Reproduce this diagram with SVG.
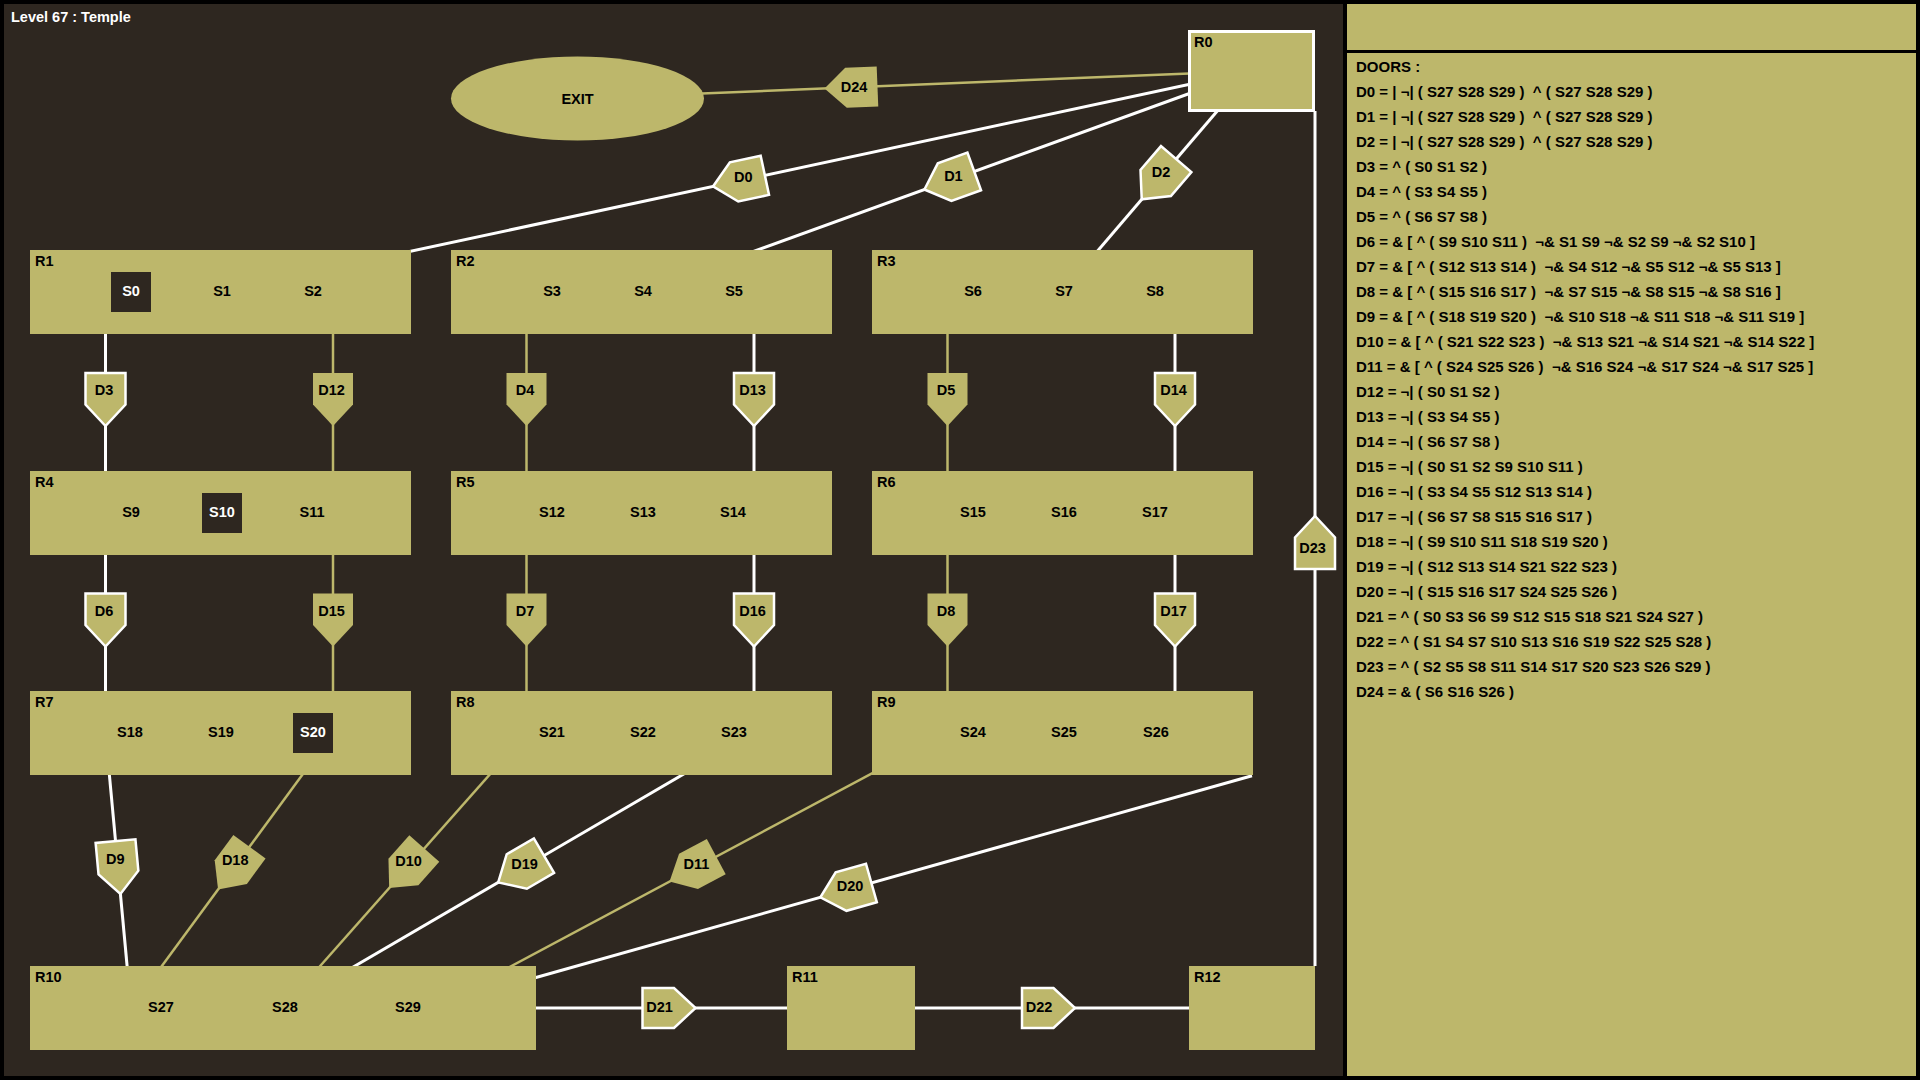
<svg xmlns="http://www.w3.org/2000/svg" xmlns:xlink="http://www.w3.org/1999/xlink" width="1920" height="1080" viewBox="0 0 1920 1080">
<style>
.room{fill:#bdb76b}
.t{font-family:"Liberation Sans",Arial,sans-serif;font-weight:bold;font-size:14.5px;fill:#000}
.m{text-anchor:middle}
.w{fill:#fff}
.box{fill:#2e2720}
.lo{stroke:#fff;stroke-width:3;fill:none}
.lc{stroke:#bdb76b;stroke-width:2.5;fill:none}
.dopen{fill:#bdb76b;stroke:#fff;stroke-width:2.5;stroke-linejoin:miter}
.dclosed{fill:#bdb76b;stroke:none}
.p{font-family:"Liberation Sans",Arial,sans-serif;font-weight:bold;font-size:15px;fill:#000;white-space:pre}
</style>
<defs>
<polygon id="door" points="-29.5,-20 2,-20 23.5,0 2,20 -29.5,20"/>
</defs>
<rect x="0" y="0" width="1920" height="1080" fill="#000"/>
<rect x="4" y="4" width="1339" height="1072" fill="#2e2720"/>
<rect x="1347" y="4" width="569" height="46" class="room"/>
<rect x="1347" y="53" width="569" height="1023" class="room"/>
<text x="11" y="22" class="t w" style="font-size:14.5px">Level 67 : Temple</text>

<g id="connectors">
<path class="lc" d="M577.5,98.5 L1251.5,71"/>
<path class="lo" d="M1251.5,71 L220.5,292"/>
<path class="lo" d="M1251.5,71 L641.5,292"/>
<path class="lo" d="M1251.5,71 L1062.5,292"/>
<path class="lo" d="M105.5,292 V513"/>
<path class="lc" d="M333,292 V513"/>
<path class="lc" d="M526.5,292 V513"/>
<path class="lo" d="M754,292 V513"/>
<path class="lc" d="M947.5,292 V513"/>
<path class="lo" d="M1175,292 V513"/>
<path class="lo" d="M105.5,513 V733"/>
<path class="lc" d="M333,513 V733"/>
<path class="lc" d="M526.5,513 V733"/>
<path class="lo" d="M754,513 V733"/>
<path class="lc" d="M947.5,513 V733"/>
<path class="lo" d="M1175,513 V733"/>
<path class="lo" d="M105.5,733 L131,1008"/>
<path class="lc" d="M333,733 L131,1008"/>
<path class="lc" d="M526.5,733 L283,1008"/>
<path class="lo" d="M754,733 L283,1008"/>
<path class="lc" d="M947.5,733 L433,1008"/>
<path class="lo" d="M528,979.7 L1252,775.7"/>
<path class="lo" d="M283,1008 H851"/>
<path class="lo" d="M851,1008 H1251.5"/>
<path class="lo" d="M1315,111 V966"/>
</g>

<g id="EXIT"><ellipse cx="577.5" cy="98.5" rx="126.5" ry="42" class="room"/><text x="577.5" y="103.5" class="t m">EXIT</text></g>

<g id="R0"><rect x="1189.5" y="31.5" width="124" height="79" fill="#bdb76b" stroke="#fff" stroke-width="3"/><text x="1194" y="46.5" class="t">R0</text></g>

<g id="R1"><rect x="30" y="250" width="381" height="84" class="room"/><text x="35" y="266" class="t">R1</text>
<rect x="111" y="272" width="40" height="40" class="box"/><text x="131" y="296" class="t m w">S0</text><text x="222" y="296" class="t m">S1</text><text x="313" y="296" class="t m">S2</text></g>
<g id="R2"><rect x="451" y="250" width="381" height="84" class="room"/><text x="456" y="266" class="t">R2</text>
<text x="552" y="296" class="t m">S3</text><text x="643" y="296" class="t m">S4</text><text x="734" y="296" class="t m">S5</text></g>
<g id="R3"><rect x="872" y="250" width="381" height="84" class="room"/><text x="877" y="266" class="t">R3</text>
<text x="973" y="296" class="t m">S6</text><text x="1064" y="296" class="t m">S7</text><text x="1155" y="296" class="t m">S8</text></g>

<g id="R4"><rect x="30" y="471" width="381" height="84" class="room"/><text x="35" y="487" class="t">R4</text>
<text x="131" y="517" class="t m">S9</text><rect x="202" y="493" width="40" height="40" class="box"/><text x="222" y="517" class="t m w">S10</text><text x="312" y="517" class="t m">S11</text></g>
<g id="R5"><rect x="451" y="471" width="381" height="84" class="room"/><text x="456" y="487" class="t">R5</text>
<text x="552" y="517" class="t m">S12</text><text x="643" y="517" class="t m">S13</text><text x="733" y="517" class="t m">S14</text></g>
<g id="R6"><rect x="872" y="471" width="381" height="84" class="room"/><text x="877" y="487" class="t">R6</text>
<text x="973" y="517" class="t m">S15</text><text x="1064" y="517" class="t m">S16</text><text x="1155" y="517" class="t m">S17</text></g>

<g id="R7"><rect x="30" y="691" width="381" height="84" class="room"/><text x="35" y="707" class="t">R7</text>
<text x="130" y="737" class="t m">S18</text><text x="221" y="737" class="t m">S19</text><rect x="293" y="713" width="40" height="40" class="box"/><text x="313" y="737" class="t m w">S20</text></g>
<g id="R8"><rect x="451" y="691" width="381" height="84" class="room"/><text x="456" y="707" class="t">R8</text>
<text x="552" y="737" class="t m">S21</text><text x="643" y="737" class="t m">S22</text><text x="734" y="737" class="t m">S23</text></g>
<g id="R9"><rect x="872" y="691" width="381" height="84" class="room"/><text x="877" y="707" class="t">R9</text>
<text x="973" y="737" class="t m">S24</text><text x="1064" y="737" class="t m">S25</text><text x="1156" y="737" class="t m">S26</text></g>

<g id="R10"><rect x="30" y="966" width="506" height="84" class="room"/><text x="35" y="982" class="t">R10</text>
<text x="161" y="1012" class="t m">S27</text><text x="285" y="1012" class="t m">S28</text><text x="408" y="1012" class="t m">S29</text></g>
<g id="R11"><rect x="787" y="966" width="128" height="84" class="room"/><text x="792" y="982" class="t">R11</text></g>
<g id="R12"><rect x="1189" y="966" width="126" height="84" class="room"/><text x="1194" y="982" class="t">R12</text></g>

<g id="D0"><use xlink:href="#door" class="dopen" transform="translate(736,181.5) rotate(167.9)"/><text x="743.3" y="182.4" class="t m">D0</text></g>
<g id="D1"><use xlink:href="#door" class="dopen" transform="translate(946.5,181.5) rotate(160.08)"/><text x="953.4" y="181.1" class="t m">D1</text></g>
<g id="D2"><use xlink:href="#door" class="dopen" transform="translate(1157,181.5) rotate(130.54)"/><text x="1161" y="176.9" class="t m">D2</text></g>
<g id="D3"><use xlink:href="#door" class="dopen" transform="translate(105.5,402.5) rotate(90)"/><text x="104" y="395" class="t m">D3</text></g>
<g id="D12"><use xlink:href="#door" class="dclosed" transform="translate(333,402.5) rotate(90)"/><text x="331.5" y="395" class="t m">D12</text></g>
<g id="D4"><use xlink:href="#door" class="dclosed" transform="translate(526.5,402.5) rotate(90)"/><text x="525" y="395" class="t m">D4</text></g>
<g id="D13"><use xlink:href="#door" class="dopen" transform="translate(754,402.5) rotate(90)"/><text x="752.5" y="395" class="t m">D13</text></g>
<g id="D5"><use xlink:href="#door" class="dclosed" transform="translate(947.5,402.5) rotate(90)"/><text x="946" y="395" class="t m">D5</text></g>
<g id="D14"><use xlink:href="#door" class="dopen" transform="translate(1175,402.5) rotate(90)"/><text x="1173.5" y="395" class="t m">D14</text></g>
<g id="D6"><use xlink:href="#door" class="dopen" transform="translate(105.5,623) rotate(90)"/><text x="104" y="615.5" class="t m">D6</text></g>
<g id="D15"><use xlink:href="#door" class="dclosed" transform="translate(333,623) rotate(90)"/><text x="331.5" y="615.5" class="t m">D15</text></g>
<g id="D7"><use xlink:href="#door" class="dclosed" transform="translate(526.5,623) rotate(90)"/><text x="525" y="615.5" class="t m">D7</text></g>
<g id="D16"><use xlink:href="#door" class="dopen" transform="translate(754,623) rotate(90)"/><text x="752.5" y="615.5" class="t m">D16</text></g>
<g id="D8"><use xlink:href="#door" class="dclosed" transform="translate(947.5,623) rotate(90)"/><text x="946" y="615.5" class="t m">D8</text></g>
<g id="D17"><use xlink:href="#door" class="dopen" transform="translate(1175,623) rotate(90)"/><text x="1173.5" y="615.5" class="t m">D17</text></g>
<g id="D9"><use xlink:href="#door" class="dopen" transform="translate(118.25,870.5) rotate(84.7)"/><text x="115.3" y="863.5" class="t m">D9</text></g>
<g id="D18"><use xlink:href="#door" class="dclosed" transform="translate(232,870.5) rotate(126.3)"/><text x="235.2" y="865.4" class="t m">D18</text></g>
<g id="D10"><use xlink:href="#door" class="dclosed" transform="translate(404.75,870.5) rotate(131.52)"/><text x="408.6" y="866" class="t m">D10</text></g>
<g id="D19"><use xlink:href="#door" class="dopen" transform="translate(518.5,870.5) rotate(149.72)"/><text x="524.5" y="868.5" class="t m">D19</text></g>
<g id="D11"><use xlink:href="#door" class="dclosed" transform="translate(690.25,870.5) rotate(151.87)"/><text x="696.4" y="868.8" class="t m">D11</text></g>
<g id="D20"><use xlink:href="#door" class="dopen" transform="translate(843,891) rotate(164.27)"/><text x="850" y="891.3" class="t m">D20</text></g>
<g id="D21"><use xlink:href="#door" class="dopen" transform="translate(672,1008) rotate(0)"/><text x="659.5" y="1011.5" class="t m">D21</text></g>
<g id="D22"><use xlink:href="#door" class="dopen" transform="translate(1051.5,1008) rotate(0)"/><text x="1039" y="1011.5" class="t m">D22</text></g>
<g id="D23"><use xlink:href="#door" class="dopen" transform="translate(1315,539.5) rotate(-90)"/><text x="1312.5" y="553" class="t m">D23</text></g>
<g id="D24"><use xlink:href="#door" class="dclosed" transform="translate(848,87.6) rotate(177.7)"/><text x="854" y="91.5" class="t m">D24</text></g>

<g id="doors-list">
<text x="1356" y="72" class="p">DOORS :</text>
<text x="1356" y="97" class="p">D0 = | ¬| ( S27 S28 S29 )  ^ ( S27 S28 S29 )</text>
<text x="1356" y="122" class="p">D1 = | ¬| ( S27 S28 S29 )  ^ ( S27 S28 S29 )</text>
<text x="1356" y="147" class="p">D2 = | ¬| ( S27 S28 S29 )  ^ ( S27 S28 S29 )</text>
<text x="1356" y="172" class="p">D3 = ^ ( S0 S1 S2 )</text>
<text x="1356" y="197" class="p">D4 = ^ ( S3 S4 S5 )</text>
<text x="1356" y="222" class="p">D5 = ^ ( S6 S7 S8 )</text>
<text x="1356" y="247" class="p">D6 = &amp; [ ^ ( S9 S10 S11 )  ¬&amp; S1 S9 ¬&amp; S2 S9 ¬&amp; S2 S10 ]</text>
<text x="1356" y="272" class="p">D7 = &amp; [ ^ ( S12 S13 S14 )  ¬&amp; S4 S12 ¬&amp; S5 S12 ¬&amp; S5 S13 ]</text>
<text x="1356" y="297" class="p">D8 = &amp; [ ^ ( S15 S16 S17 )  ¬&amp; S7 S15 ¬&amp; S8 S15 ¬&amp; S8 S16 ]</text>
<text x="1356" y="322" class="p">D9 = &amp; [ ^ ( S18 S19 S20 )  ¬&amp; S10 S18 ¬&amp; S11 S18 ¬&amp; S11 S19 ]</text>
<text x="1356" y="347" class="p">D10 = &amp; [ ^ ( S21 S22 S23 )  ¬&amp; S13 S21 ¬&amp; S14 S21 ¬&amp; S14 S22 ]</text>
<text x="1356" y="372" class="p">D11 = &amp; [ ^ ( S24 S25 S26 )  ¬&amp; S16 S24 ¬&amp; S17 S24 ¬&amp; S17 S25 ]</text>
<text x="1356" y="397" class="p">D12 = ¬| ( S0 S1 S2 )</text>
<text x="1356" y="422" class="p">D13 = ¬| ( S3 S4 S5 )</text>
<text x="1356" y="447" class="p">D14 = ¬| ( S6 S7 S8 )</text>
<text x="1356" y="472" class="p">D15 = ¬| ( S0 S1 S2 S9 S10 S11 )</text>
<text x="1356" y="497" class="p">D16 = ¬| ( S3 S4 S5 S12 S13 S14 )</text>
<text x="1356" y="522" class="p">D17 = ¬| ( S6 S7 S8 S15 S16 S17 )</text>
<text x="1356" y="547" class="p">D18 = ¬| ( S9 S10 S11 S18 S19 S20 )</text>
<text x="1356" y="572" class="p">D19 = ¬| ( S12 S13 S14 S21 S22 S23 )</text>
<text x="1356" y="597" class="p">D20 = ¬| ( S15 S16 S17 S24 S25 S26 )</text>
<text x="1356" y="622" class="p">D21 = ^ ( S0 S3 S6 S9 S12 S15 S18 S21 S24 S27 )</text>
<text x="1356" y="647" class="p">D22 = ^ ( S1 S4 S7 S10 S13 S16 S19 S22 S25 S28 )</text>
<text x="1356" y="672" class="p">D23 = ^ ( S2 S5 S8 S11 S14 S17 S20 S23 S26 S29 )</text>
<text x="1356" y="697" class="p">D24 = &amp; ( S6 S16 S26 )</text>
</g>
</svg>
